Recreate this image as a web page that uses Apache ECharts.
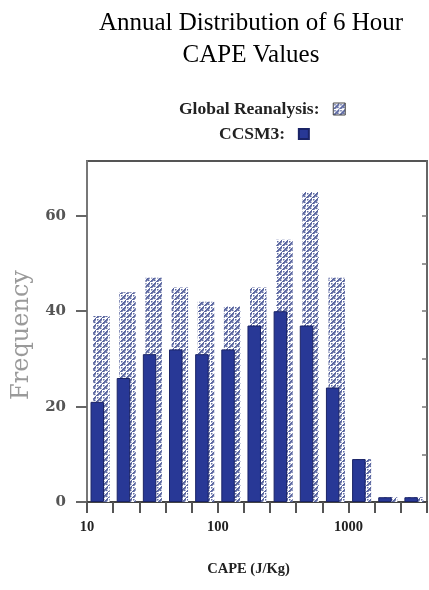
<!DOCTYPE html>
<html><head><meta charset="utf-8">
<script src="https://cdn.jsdelivr.net/npm/echarts@6/dist/echarts.min.js"></script>
<style>html,body{margin:0;padding:0;background:#fff}#c{width:429px;height:590px}</style>
</head><body><div id="c"></div>
<script>
// Histogram bin edges (CAPE, J/Kg) — log-spaced, 5 bins per decade
const binEdges = [10, 15.85, 25.12, 39.81, 63.1, 100, 158.5, 251.2, 398.1, 631, 1000, 1585, 2512, 3981];
const globalReanalysis = [39, 44, 47, 45, 42, 41, 45, 55, 65, 47, 9, 1, 1];
const ccsm3 = [21, 26, 31, 32, 31, 32, 37, 40, 37, 24, 9, 1, 1];
const xTickLabels = [10, 100, 1000];
const yTickLabels = [0, 20, 40, 60];
const yRightTicks = [10, 20, 30, 40, 50, 60];
const seriesNames = ['Global Reanalysis', 'CCSM3'];

const binCenters = binEdges.slice(0, -1).map((e, i) => Math.sqrt(e * binEdges[i + 1]));
const log10 = Math.log10;

function makePattern() {
  const c = document.createElement('canvas');
  c.width = 6; c.height = 6;
  const g = c.getContext('2d');
  g.fillStyle = '#ffffff';
  g.fillRect(0, 0, 6, 6);
  g.fillStyle = '#5d69a2';
  // "/" diagonal stripe
  for (let i = 0; i < 6; i++) g.fillRect(i, 5 - i, 2, 1.7);
  // scattered dots
  g.fillRect(1, 1, 1.5, 1.5);
  g.fillRect(4, 3.6, 1.5, 1.5);
  return c;
}
const pattern = { image: makePattern(), repeat: 'repeat' };

const serif = 'Liberation Serif, Times New Roman, serif';
const wideSerif = 'DejaVu Serif, serif';
const chart = echarts.init(document.getElementById('c'), null, { renderer: 'canvas' });
chart.setOption({
  backgroundColor: '#fff',
  animation: false,
  title: {
    text: 'Annual Distribution of 6 Hour\nCAPE Values',
    left: 246, textAlign: 'center', top: 2,
    textStyle: { fontFamily: serif, fontSize: 25, fontWeight: 'normal', color: '#000', lineHeight: 32 }
  },
  legend: [
    {
      data: [seriesNames[0]], top: 95, left: 174, align: 'right', icon: 'rect',
      itemWidth: 12, itemHeight: 12, selectedMode: false,
      formatter: '{name}:  ',
      itemStyle: { borderColor: '#444', borderWidth: 1 },
      textStyle: { fontFamily: serif, fontWeight: 'bold', fontSize: 17.5, color: '#222' }
    },
    {
      data: [seriesNames[1]], top: 120, left: 214, align: 'right', icon: 'rect',
      itemWidth: 10, itemHeight: 10, selectedMode: false,
      formatter: '{name}:  ',
      textStyle: { fontFamily: serif, fontWeight: 'bold', fontSize: 17.5, color: '#222' }
    }
  ],
  grid: { left: 87, right: 2, top: 161, bottom: 88, show: true, borderColor: '#555', borderWidth: 2, containLabel: false },
  xAxis: [
    {
      type: 'log', logBase: 10, min: binEdges[0], max: binEdges[binEdges.length - 1],
      axisLine: { show: false }, axisTick: { show: false }, axisLabel: { show: false }, splitLine: { show: false }
    },
    {
      type: 'value', position: 'bottom',
      min: log10(binEdges[0]), max: log10(binEdges[binEdges.length - 1]),
      axisLine: { show: true, lineStyle: { color: '#444', width: 2 } },
      axisTick: { show: true, customValues: binEdges.map(log10), length: 11, lineStyle: { color: '#555', width: 2 } },
      axisLabel: {
        customValues: xTickLabels.map(log10),
        formatter: v => String(Math.round(Math.pow(10, v))),
        fontFamily: serif, fontWeight: 'bold', fontSize: 14.5, color: '#222', margin: 18
      },
      splitLine: { show: false },
      name: 'CAPE (J/Kg)', nameLocation: 'middle', nameGap: 60,
      nameTextStyle: { fontFamily: serif, fontWeight: 'bold', fontSize: 14.5, color: '#222', padding: [0, 17, 0, 0] }
    }
  ],
  yAxis: [
    {
      type: 'value', min: 0, max: 71.5, position: 'left',
      axisLine: { show: true, lineStyle: { color: '#777', width: 2 } },
      axisTick: { show: true, customValues: yTickLabels, length: 11, lineStyle: { color: '#666', width: 2 } },
      axisLabel: { customValues: yTickLabels, fontFamily: wideSerif, fontWeight: 'bold', fontSize: 15, color: '#555', margin: 21 },
      splitLine: { show: false },
      name: 'Frequency', nameLocation: 'middle', nameGap: 51, nameRotate: 90,
      nameTextStyle: { fontFamily: wideSerif, fontSize: 24, color: '#9a9a9a', padding: [0, 7, 0, 0] }
    },
    {
      type: 'value', min: 0, max: 71.5, position: 'right',
      axisLine: { show: true, lineStyle: { color: '#666', width: 2 } },
      axisTick: { show: true, inside: true, customValues: yRightTicks, length: 5, lineStyle: { color: '#777', width: 1.5 } },
      axisLabel: { show: false }, splitLine: { show: false }
    }
  ],
  series: [
    {
      name: seriesNames[1], type: 'bar', xAxisIndex: 0, yAxisIndex: 0, z: 3,
      barWidth: 13.5, barGap: '-81%',
      itemStyle: { color: '#283896', borderColor: '#1a2366', borderWidth: 1 },
      data: binCenters.map((c, i) => [c, ccsm3[i]])
    },
    {
      name: seriesNames[0], type: 'bar', xAxisIndex: 0, yAxisIndex: 0, z: 1,
      barWidth: 16.5, barGap: '-81%',
      itemStyle: { color: pattern },
      data: binCenters.map((c, i) => [c, globalReanalysis[i]])
    }
  ]
});
</script>
</body></html>
